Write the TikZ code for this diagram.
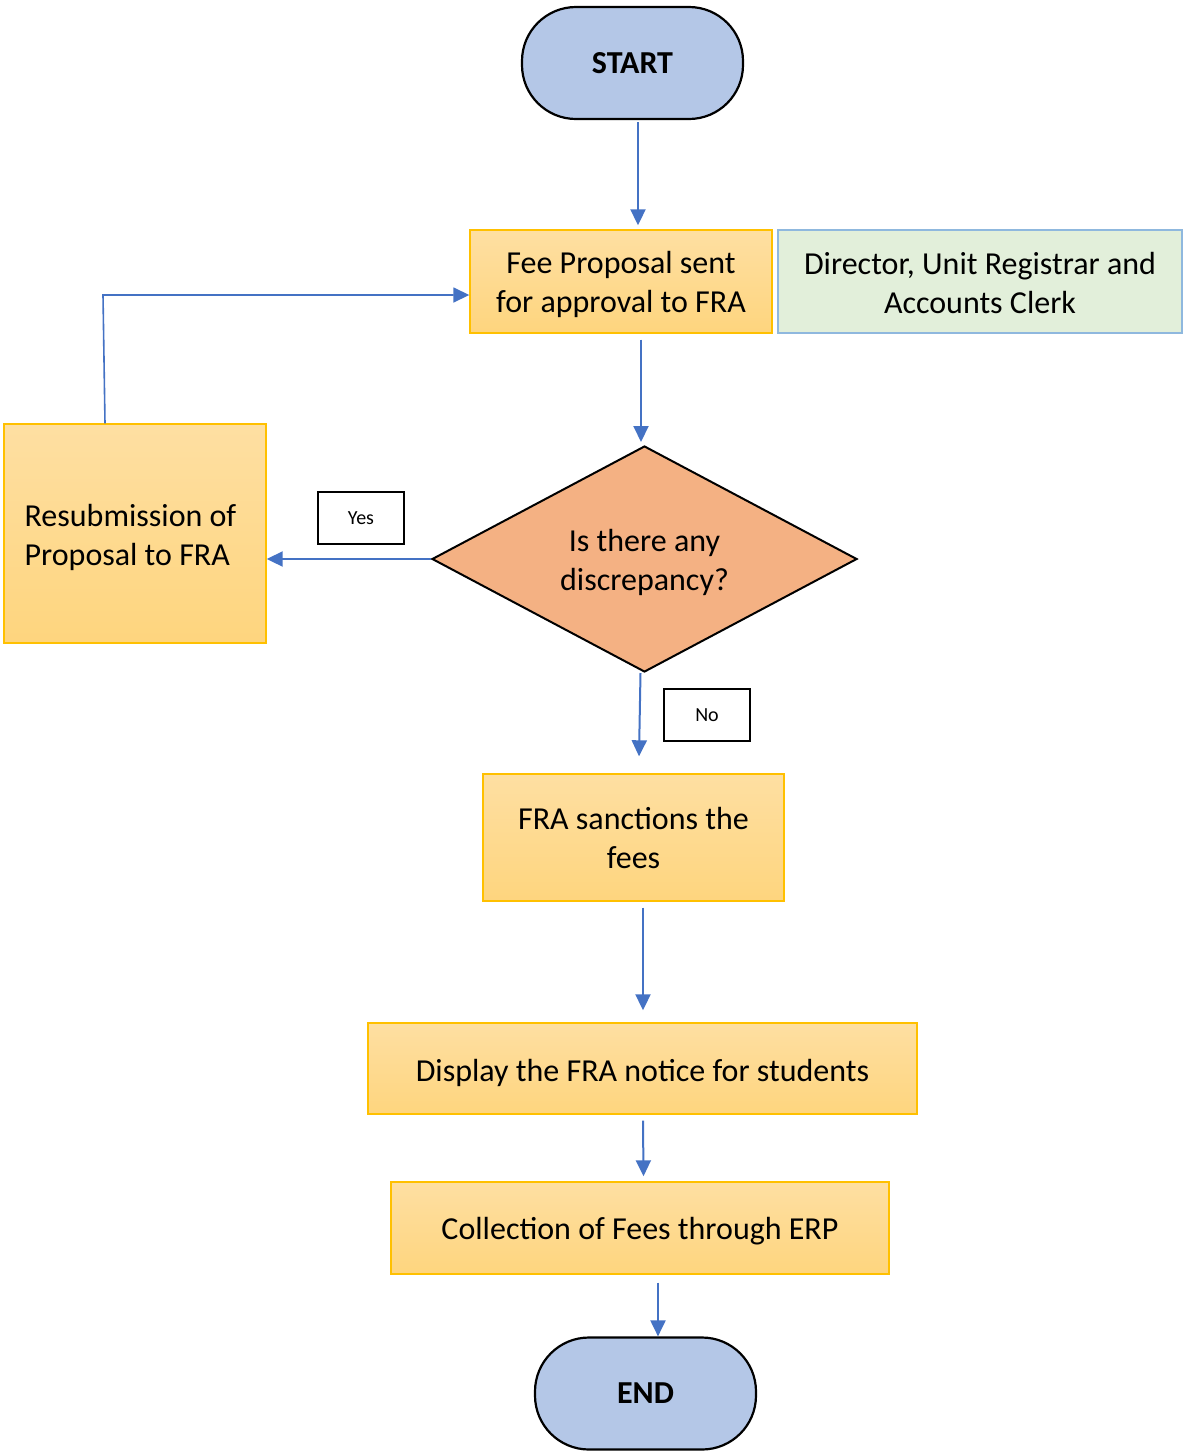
\documentclass[tikz,border=0pt]{standalone}
\usepackage{fontspec}
\setmainfont{Carlito}
\usetikzlibrary{arrows.meta,shapes.geometric}
\definecolor{termfill}{HTML}{B4C7E7}
\definecolor{proctop}{HTML}{FEDFA2}
\definecolor{procbot}{HTML}{FED57E}
\definecolor{procedge}{HTML}{FFC000}
\definecolor{rolefill}{HTML}{E2EFDA}
\definecolor{roleedge}{HTML}{8FB8DE}
\definecolor{decfill}{HTML}{F4B183}
\definecolor{flowblue}{HTML}{4472C4}
% stacked lines, set slightly low inside their box
\newcommand{\lowtext}[3][3pt]{\raisebox{-#1}[\height][\depth]{\begin{tabular}{@{}#2@{}}#3\end{tabular}}}
\tikzset{
  terminal/.style={draw=black, line width=2.2pt, fill=termfill, rounded corners=54pt,
    minimum width=221pt, minimum height=112pt, inner sep=0pt,
    font=\fontsize{32}{39}\selectfont\bfseries},
  procbox/.style={draw=procedge, line width=1.4pt, top color=proctop, bottom color=procbot,
    inner sep=0pt, font=\fontsize{32}{39}\selectfont},
  rolebox/.style={draw=roleedge, line width=1.4pt, fill=rolefill,
    inner sep=0pt, font=\fontsize{32}{39}\selectfont},
  decision/.style={diamond, draw=black, line width=2pt, fill=decfill, inner sep=0pt,
    minimum width=425pt, minimum height=226pt, aspect=1.88,
    font=\fontsize{32}{39}\selectfont},
  answer/.style={draw=black, line width=2pt, fill=white, minimum width=86pt,
    minimum height=52pt, inner sep=0pt, font=\fontsize{20}{24}\selectfont},
  flow/.style={draw=flowblue, line width=2pt, -{Triangle[length=16pt,width=15pt]}},
}
\begin{document}
\begin{tikzpicture}[x=1pt,y=-1pt]
\useasboundingbox (0,0) rectangle (1183,1454);

% terminals
\node[terminal] (start) at (632.5,63) {START};
\node[terminal] (stop) at (645.5,1393.5) {END};

% process steps
\node[procbox, minimum width=302pt, minimum height=103pt] (fee) at (621,281.5)
  {\lowtext[4pt]{c}{Fee Proposal sent\\for approval to FRA}};
\node[rolebox, minimum width=404pt, minimum height=103pt] (role) at (980,281.5)
  {\lowtext[4.5pt]{c}{Director, Unit Registrar and\\Accounts Clerk}};
\node[decision] (check) at (644.5,559) {\lowtext[4pt]{c}{Is there any\\discrepancy?}};
\node[procbox, minimum width=262pt, minimum height=219pt] (resub) at (135,533.5)
  {\hspace*{-9pt}\lowtext[5pt]{l}{Resubmission of\\Proposal to FRA}};
\node[procbox, minimum width=301pt, minimum height=127pt] (sanction) at (633.5,837.5)
  {\lowtext[4pt]{c}{FRA sanctions the\\fees}};
\node[procbox, minimum width=549pt, minimum height=91pt] (notice) at (642.5,1068.5)
  {\lowtext[5pt]{c}{Display the FRA notice for students}};
\node[procbox, minimum width=498pt, minimum height=92pt] (collect) at (640,1228)
  {\lowtext[3.5pt]{c}{Collection of Fees through ERP}};

% answer labels
\node[answer] (yes) at (361,518) {Yes};
\node[answer] (no) at (707,715) {No};

% connectors
\draw[flow] ([xshift=5.5pt,yshift=-2pt]start.south) -- ([xshift=17pt,yshift=4pt]fee.north);
\draw[flow] ([xshift=20pt,yshift=-6pt]fee.south) -- ([xshift=-3.5pt,yshift=3pt]check.north);
\draw[flow] (check.west) -- (check.west -| resub.east);
\draw[flow, line width=1.6pt] ([xshift=-30pt]resub.north) -- (103,295) -- (fee.west |- 0,295);
\draw[flow] ([xshift=-4pt]check.south) -- ([xshift=5.5pt,yshift=17pt]sanction.north);
\draw[flow] ([xshift=9.5pt,yshift=-6pt]sanction.south) -- ([xshift=0.5pt,yshift=12pt]notice.north);
\draw[flow] ([xshift=0.5pt,yshift=-6pt]notice.south) -- ([xshift=3.5pt,yshift=5pt]collect.north);
\draw[flow] ([xshift=18pt,yshift=-8pt]collect.south) -- ([xshift=12.5pt]stop.north);
\end{tikzpicture}
\end{document}
